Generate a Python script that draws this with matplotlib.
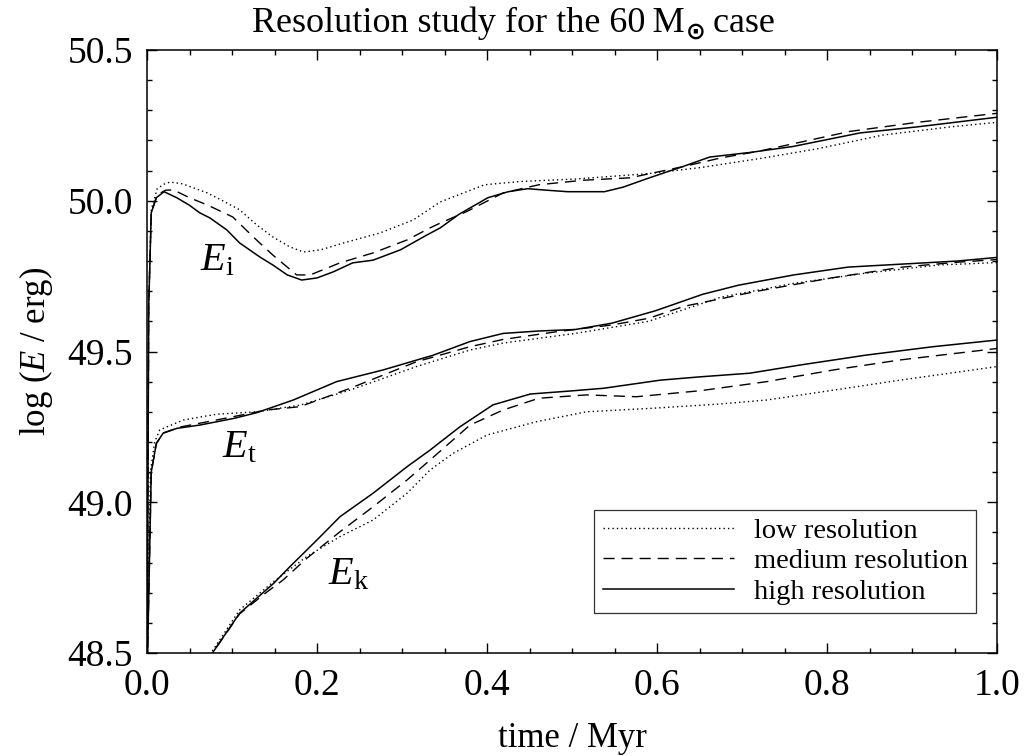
import matplotlib
matplotlib.use("Agg")
import matplotlib.pyplot as plt
from matplotlib.ticker import MultipleLocator, FormatStrFormatter

plt.rcParams['font.family'] = ['Liberation Serif', 'DejaVu Serif']
plt.rcParams['mathtext.fontset'] = 'custom'
plt.rcParams['mathtext.rm'] = 'Liberation Serif'
plt.rcParams['mathtext.it'] = 'Liberation Serif:italic'
plt.rcParams['mathtext.bf'] = 'Liberation Serif:bold'

# ---- data (time in Myr, log E in erg) ----
ei_high_t = [0, 0.002, 0.005, 0.011, 0.02, 0.035, 0.05, 0.062, 0.074, 0.094, 0.109, 0.133, 0.148, 0.165,
             0.182, 0.2, 0.219, 0.242, 0.266, 0.298, 0.329, 0.345, 0.367, 0.401, 0.425, 0.448, 0.47, 0.495,
             0.538, 0.56, 0.59, 0.632, 0.662, 0.709, 0.76, 0.839, 0.906, 1.0]
ei_high_v = [48.3, 49.65, 49.96, 50.01, 50.03, 50.01, 49.985, 49.96, 49.943, 49.903, 49.86, 49.813, 49.787,
             49.754, 49.737, 49.744, 49.764, 49.794, 49.803, 49.837, 49.886, 49.91, 49.955, 50.01, 50.03,
             50.04, 50.035, 50.03, 50.03, 50.045, 50.075, 50.115, 50.145, 50.16, 50.18, 50.225, 50.245, 50.277]

ei_med_t = [0, 0.002, 0.005, 0.012, 0.022, 0.031, 0.05, 0.071, 0.101, 0.125, 0.148, 0.176, 0.192, 0.227,
            0.266, 0.306, 0.333, 0.345, 0.376, 0.419, 0.461, 0.513, 0.568, 0.632, 0.675, 0.721, 0.827, 0.906, 1.0]
ei_med_v = [48.3, 49.65, 49.96, 50.02, 50.035, 50.036, 50.01, 49.986, 49.946, 49.88, 49.82, 49.754, 49.754,
            49.794, 49.827, 49.87, 49.91, 49.926, 49.964, 50.026, 50.053, 50.068, 50.076, 50.114, 50.142,
            50.165, 50.23, 50.26, 50.29]

ei_low_t = [0, 0.002, 0.005, 0.012, 0.02, 0.027, 0.042, 0.071, 0.089, 0.109, 0.129, 0.148, 0.168, 0.184,
            0.204, 0.235, 0.274, 0.313, 0.345, 0.397, 0.44, 0.504, 0.59, 0.651, 0.721, 0.788, 0.866, 0.945, 1.0]
ei_low_v = [48.3, 49.65, 49.97, 50.04, 50.055, 50.062, 50.056, 50.026, 50.0, 49.97, 49.92, 49.88, 49.847,
            49.83, 49.837, 49.863, 49.893, 49.936, 49.996, 50.053, 50.064, 50.072, 50.09, 50.11, 50.14,
            50.172, 50.218, 50.245, 50.26]

et_high_t = [0, 0.005, 0.011, 0.019, 0.035, 0.062, 0.102, 0.129, 0.172, 0.223, 0.278, 0.337, 0.38, 0.419,
             0.461, 0.504, 0.547, 0.598, 0.654, 0.696, 0.761, 0.825, 0.889, 0.953, 1.0]
et_high_v = [48.4, 49.1, 49.195, 49.229, 49.245, 49.256, 49.278, 49.297, 49.339, 49.40, 49.439, 49.488,
             49.533, 49.56, 49.568, 49.573, 49.594, 49.635, 49.69, 49.72, 49.754, 49.78, 49.79, 49.80, 49.812]

et_med_t = [0, 0.005, 0.011, 0.019, 0.04, 0.082, 0.141, 0.18, 0.239, 0.317, 0.38, 0.419, 0.483, 0.547,
            0.59, 0.632, 0.718, 0.803, 0.889, 0.953, 1.0]
et_med_v = [48.4, 49.1, 49.195, 49.23, 49.25, 49.273, 49.306, 49.317, 49.378, 49.466, 49.516, 49.54,
            49.566, 49.588, 49.61, 49.65, 49.70, 49.743, 49.78, 49.796, 49.805]

et_low_t = [0, 0.004, 0.009, 0.015, 0.043, 0.082, 0.129, 0.18, 0.239, 0.317, 0.38, 0.419, 0.504, 0.59,
            0.675, 0.761, 0.846, 0.932, 1.0]
et_low_v = [48.4, 49.1, 49.2, 49.24, 49.273, 49.292, 49.30, 49.322, 49.372, 49.45, 49.505, 49.528, 49.56,
            49.60, 49.68, 49.726, 49.76, 49.787, 49.795]

ek_high_t = [0.07, 0.082, 0.109, 0.149, 0.168, 0.2, 0.227, 0.266, 0.306, 0.333, 0.368, 0.407, 0.451, 0.498,
             0.537, 0.604, 0.651, 0.709, 0.768, 0.846, 0.925, 1.0]
ek_high_v = [48.47, 48.521, 48.632, 48.731, 48.786, 48.875, 48.952, 49.03, 49.118, 49.173, 49.25, 49.323,
             49.359, 49.369, 49.378, 49.405, 49.416, 49.428, 49.455, 49.488, 49.516, 49.538]

ek_med_t = [0.07, 0.082, 0.109, 0.14, 0.16, 0.188, 0.227, 0.266, 0.306, 0.333, 0.38, 0.419, 0.461, 0.517,
            0.576, 0.651, 0.729, 0.808, 0.886, 1.0]
ek_med_v = [48.47, 48.52, 48.63, 48.70, 48.742, 48.814, 48.902, 48.985, 49.074, 49.14, 49.256, 49.306,
            49.345, 49.356, 49.35, 49.37, 49.40, 49.439, 49.472, 49.51]

ek_low_t = [0.068, 0.08, 0.109, 0.149, 0.188, 0.227, 0.266, 0.306, 0.333, 0.36, 0.40, 0.458, 0.517, 0.596,
            0.67, 0.729, 0.808, 0.886, 1.0]
ek_low_v = [48.47, 48.52, 48.643, 48.737, 48.82, 48.886, 48.941, 49.03, 49.107, 49.162, 49.223, 49.267,
            49.30, 49.312, 49.325, 49.339, 49.372, 49.405, 49.45]

legend_labels = ['low resolution', 'medium resolution', 'high resolution']
curve_labels = [r'$E_{\rm i}$', r'$E_{\rm t}$', r'$E_{\rm k}$']
curve_label_pos = [(0.062, 49.80), (0.088, 49.18), (0.213, 48.76)]
title_parts = ['Resolution study for the 60\u2009M', '\u2299', ' case']

# ---- figure ----
fig = plt.figure(figsize=(10.27, 7.56), dpi=100)
ax = fig.add_axes([147/1027, 1 - 653/756, 850/1027, 603/756])

dotted = dict(color='black', lw=1.0, linestyle=(0, (1, 2.2)))
dashed = dict(color='black', lw=1.0, linestyle=(0, (8, 5)))
solid = dict(color='black', lw=1.1, linestyle='-')

l_low, = ax.plot(ei_low_t, ei_low_v, **dotted)
l_med, = ax.plot(ei_med_t, ei_med_v, **dashed)
l_high, = ax.plot(ei_high_t, ei_high_v, **solid)
ax.plot(et_low_t, et_low_v, **dotted)
ax.plot(et_med_t, et_med_v, **dashed)
ax.plot(et_high_t, et_high_v, **solid)
ax.plot(ek_low_t, ek_low_v, **dotted)
ax.plot(ek_med_t, ek_med_v, **dashed)
ax.plot(ek_high_t, ek_high_v, **solid)

for lab, (x, y) in zip(curve_labels, curve_label_pos):
    ax.text(x, y, lab, fontsize=29, ha='left', va='center')

ax.set_xlim(0, 1.0)
ax.set_ylim(48.5, 50.5)
ax.xaxis.set_major_locator(MultipleLocator(0.2))
ax.xaxis.set_minor_locator(MultipleLocator(0.05))
ax.yaxis.set_major_locator(MultipleLocator(0.5))
ax.yaxis.set_minor_locator(MultipleLocator(0.1))
ax.xaxis.set_major_formatter(FormatStrFormatter('%.1f'))
ax.yaxis.set_major_formatter(FormatStrFormatter('%.1f'))
ax.tick_params(which='both', direction='in', top=True, right=True, width=1.0)
ax.tick_params(which='major', length=7.5, labelsize=27)
ax.tick_params(axis='x', which='major', pad=11)
ax.tick_params(axis='y', which='major', pad=10)
ax.tick_params(which='minor', length=3.8)
for s in ax.spines.values():
    s.set_linewidth(1.1)

ax.set_xlabel('time / Myr', fontsize=25, labelpad=14)
ax.set_ylabel(r'log ($E$ / erg)', fontsize=25, labelpad=9)

leg = ax.legend([l_low, l_med, l_high], legend_labels, loc='lower left',
                bbox_to_anchor=(0.526, 0.066), fontsize=20.5, frameon=True, fancybox=False,
                handlelength=4.6, handletextpad=0.7, labelspacing=0.15, borderpad=0.3,
                borderaxespad=0)
leg.get_frame().set_edgecolor('black')
leg.get_frame().set_linewidth(0.9)

# ---- title assembled from pieces so the solar symbol can be bold ----
renderer = fig.canvas.get_renderer()
W, H = fig.bbox.width, fig.bbox.height
base_y = 1 - 32 / 756
t1 = fig.text(0, base_y, title_parts[0], fontsize=26, ha='left', va='baseline')
t2 = fig.text(0, base_y - 7 / H, title_parts[1], fontsize=17, fontweight='bold',
              family=['DejaVu Sans'], ha='left', va='baseline')
t3 = fig.text(0, base_y, title_parts[2], fontsize=26, ha='left', va='baseline')
w1 = t1.get_window_extent(renderer).width
w2 = t2.get_window_extent(renderer).width
w3 = t3.get_window_extent(renderer).width
total = w1 + w2 + w3
x0 = (W - total) / 2
t1.set_x(x0 / W)
t2.set_x((x0 + w1 + 1) / W)
t3.set_x((x0 + w1 + w2) / W)

fig.savefig('out.png', dpi=100)
